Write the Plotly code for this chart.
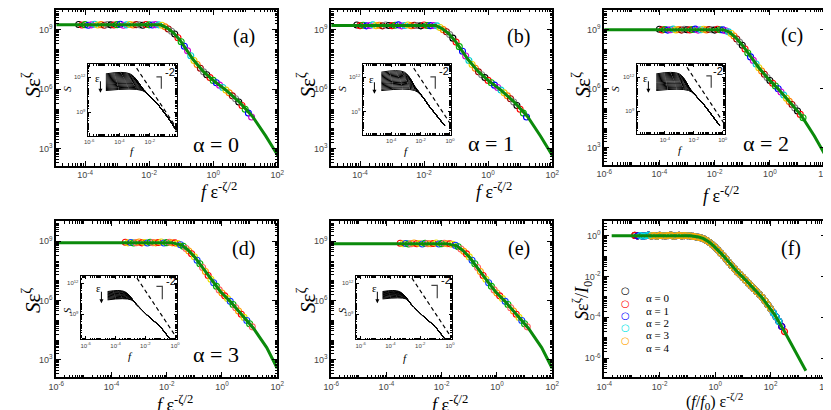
import plotly.graph_objects as go

W, H = 831, 410

# ---------------- data (log10 units) ----------------
# master curves (green lines), panels a-f
curve_a_lx = [-4.90, -1.64, -1.44, -1.23, -1.03, -0.82, -0.62, -0.31, 0.00, 0.41, 0.82, 1.23, 1.64, 2.02]
curve_a_ly = [9.25, 9.25, 9.10, 8.84, 8.46, 7.99, 7.49, 6.90, 6.45, 5.95, 5.35, 4.63, 3.65, 2.66]
curve_b_lx = [-4.90, -1.64, -1.44, -1.23, -1.03, -0.82, -0.62, -0.31, 0.00, 0.41, 0.82, 1.23, 1.64, 2.02]
curve_b_ly = [9.22, 9.22, 9.07, 8.81, 8.44, 7.98, 7.49, 6.90, 6.45, 5.95, 5.35, 4.63, 3.63, 2.62]
curve_c_lx = [-6.00, -1.70, -1.47, -1.23, -0.99, -0.76, -0.40, -0.05, 0.31, 0.78, 1.14, 1.61, 2.00]
curve_c_ly = [9.00, 9.00, 8.88, 8.59, 8.20, 7.74, 7.07, 6.49, 5.98, 5.23, 4.64, 3.60, 2.64]
curve_d_lx = [-6.00, -1.82, -1.46, -1.23, -0.99, -0.76, -0.40, -0.05, 0.31, 0.78, 1.14, 1.62, 2.00]
curve_d_ly = [8.93, 8.93, 8.81, 8.56, 8.21, 7.79, 7.08, 6.45, 5.94, 5.18, 4.60, 3.62, 2.58]
curve_e_lx = [-6.00, -1.82, -1.46, -1.23, -0.99, -0.76, -0.40, -0.05, 0.31, 0.78, 1.14, 1.62, 2.00]
curve_e_ly = [8.88, 8.88, 8.77, 8.53, 8.19, 7.78, 7.08, 6.45, 5.94, 5.18, 4.60, 3.62, 2.58]
curve_f_lx = [-3.73, -0.91, -0.60, -0.44, -0.25, -0.08, 0.27, 0.74, 1.21, 1.68, 2.15, 2.51, 3.27]
curve_f_ly = [0.00, 0.00, -0.06, -0.13, -0.28, -0.46, -0.95, -1.68, -2.33, -3.01, -3.88, -4.72, -6.62]

# collapsed data points (markers)
mark_a_lx = [-4.2, -4.1, -4.0, -3.9, -3.8, -3.7, -3.6, -3.5, -3.4, -3.3, -3.2, -3.1, -3.0, -2.9,
             -2.8, -2.7, -2.6, -2.5, -2.4, -2.3, -2.2, -2.1, -2.0, -1.9, -1.8, -1.7, -1.6, -1.5,
             -1.4, -1.3, -1.2, -1.1, -1.0, -0.9, -0.8, -0.7, -0.6, -0.5, -0.4, -0.3, -0.2, -0.1,
             0.0, 0.1, 0.2, 0.3, 0.4, 0.5, 0.6, 0.7, 0.8, 0.9, 1.0, 1.1, 1.2]
mark_a_ly = [9.27, 9.24, 9.26, 9.23, 9.25, 9.28, 9.24, 9.26, 9.23, 9.27, 9.25, 9.24, 9.26, 9.28,
             9.23, 9.25, 9.27, 9.24, 9.26, 9.25, 9.23, 9.27, 9.25, 9.24, 9.26, 9.25, 9.23, 9.15,
             9.04, 8.93, 8.79, 8.60, 8.40, 8.17, 7.94, 7.69, 7.45, 7.25, 7.06, 6.88, 6.73, 6.59,
             6.45, 6.33, 6.21, 6.09, 5.96, 5.82, 5.67, 5.52, 5.36, 5.18, 4.99, 4.80, 4.60]
mark_b_lx = [-4.1, -4.0, -3.9, -3.8, -3.7, -3.6, -3.5, -3.4, -3.3, -3.2, -3.1, -3.0, -2.9,
             -2.8, -2.7, -2.6, -2.5, -2.4, -2.3, -2.2, -2.1, -2.0, -1.9, -1.8, -1.7, -1.6, -1.5,
             -1.4, -1.3, -1.2, -1.1, -1.0, -0.9, -0.8, -0.7, -0.6, -0.5, -0.4, -0.3, -0.2, -0.1,
             0.0, 0.1, 0.2, 0.3, 0.4, 0.5, 0.6, 0.7, 0.8, 0.9, 1.0, 1.1, 1.2]
mark_b_ly = [9.24, 9.21, 9.23, 9.20, 9.22, 9.25, 9.21, 9.23, 9.20, 9.24, 9.22, 9.21, 9.23,
             9.25, 9.20, 9.22, 9.24, 9.21, 9.23, 9.22, 9.20, 9.24, 9.22, 9.21, 9.22, 9.20, 9.12,
             9.01, 8.90, 8.76, 8.58, 8.38, 8.15, 7.92, 7.68, 7.45, 7.25, 7.06, 6.88, 6.73, 6.59,
             6.45, 6.33, 6.21, 6.09, 5.96, 5.82, 5.67, 5.52, 5.36, 5.18, 4.99, 4.80, 4.60]
mark_c_lx = [-4.0, -3.9, -3.8, -3.7, -3.6, -3.5, -3.4, -3.3, -3.2, -3.1, -3.0, -2.9,
             -2.8, -2.7, -2.6, -2.5, -2.4, -2.3, -2.2, -2.1, -2.0, -1.9, -1.8, -1.7, -1.6, -1.5,
             -1.4, -1.3, -1.2, -1.1, -1.0, -0.9, -0.8, -0.7, -0.6, -0.5, -0.4, -0.3, -0.2, -0.1,
             0.0, 0.1, 0.2, 0.3, 0.4, 0.5, 0.6, 0.7, 0.8, 0.9, 1.0, 1.1, 1.2]
mark_c_ly = [9.02, 8.99, 9.01, 8.98, 9.00, 9.03, 8.99, 9.01, 8.98, 9.02, 9.00, 8.99,
             9.01, 9.03, 8.98, 9.00, 9.02, 8.99, 9.01, 9.00, 8.98, 9.02, 9.00, 8.99, 8.95, 8.89,
             8.81, 8.68, 8.53, 8.37, 8.21, 8.02, 7.82, 7.62, 7.44, 7.26, 7.07, 6.90, 6.74, 6.57,
             6.42, 6.28, 6.14, 6.00, 5.84, 5.68, 5.52, 5.36, 5.20, 5.03, 4.87, 4.70, 4.53]
mark_d_lx = [-3.5, -3.4, -3.3, -3.2, -3.1, -3.0, -2.9, -2.8, -2.7, -2.6, -2.5, -2.4, -2.3,
             -2.2, -2.1, -2.0, -1.9, -1.8, -1.7, -1.6, -1.5, -1.4, -1.3, -1.2, -1.1, -1.0,
             -0.9, -0.8, -0.7, -0.6, -0.5, -0.4, -0.3, -0.2, -0.1, 0.0, 0.1, 0.2, 0.3, 0.4,
             0.5, 0.6, 0.7, 0.8, 0.9, 1.0, 1.1]
mark_d_ly = [8.95, 8.92, 8.94, 8.91, 8.93, 8.96, 8.92, 8.94, 8.91, 8.95, 8.93, 8.92, 8.94,
             8.96, 8.91, 8.93, 8.95, 8.92, 8.92, 8.88, 8.82, 8.75, 8.63, 8.51, 8.37, 8.22,
             8.04, 7.86, 7.67, 7.47, 7.27, 7.08, 6.90, 6.72, 6.54, 6.38, 6.24, 6.10, 5.96, 5.80,
             5.64, 5.47, 5.31, 5.15, 4.99, 4.83, 4.67]
mark_e_lx = [-3.5, -3.4, -3.3, -3.2, -3.1, -3.0, -2.9, -2.8, -2.7, -2.6, -2.5, -2.4, -2.3,
             -2.2, -2.1, -2.0, -1.9, -1.8, -1.7, -1.6, -1.5, -1.4, -1.3, -1.2, -1.1, -1.0,
             -0.9, -0.8, -0.7, -0.6, -0.5, -0.4, -0.3, -0.2, -0.1, 0.0, 0.1, 0.2, 0.3, 0.4,
             0.5, 0.6, 0.7, 0.8, 0.9, 1.0, 1.1]
mark_e_ly = [8.90, 8.87, 8.89, 8.86, 8.88, 8.91, 8.87, 8.89, 8.86, 8.90, 8.88, 8.87, 8.89,
             8.91, 8.86, 8.88, 8.90, 8.87, 8.87, 8.84, 8.79, 8.72, 8.61, 8.49, 8.36, 8.21,
             8.04, 7.86, 7.67, 7.47, 7.27, 7.08, 6.90, 6.72, 6.54, 6.38, 6.24, 6.10, 5.96, 5.80,
             5.64, 5.47, 5.31, 5.15, 4.99, 4.83, 4.67]
mark_f_lx = [-2.9, -2.8, -2.7, -2.6, -2.5, -2.4, -2.3, -2.2, -2.1, -2.0, -1.9, -1.8, -1.7,
             -1.6, -1.5, -1.4, -1.3, -1.2, -1.1, -1.0, -0.9, -0.8, -0.7, -0.6, -0.5, -0.4,
             -0.3, -0.2, -0.1, 0.0, 0.1, 0.2, 0.3, 0.4, 0.5, 0.6, 0.7, 0.8, 0.9, 1.0, 1.1,
             1.2, 1.3, 1.4, 1.5, 1.6, 1.7, 1.8, 1.9, 2.0, 2.1, 2.2, 2.3, 2.4, 2.5]
mark_f_ly = [0.02, -0.01, 0.01, -0.02, 0.00, 0.03, -0.01, 0.01, -0.02, 0.02, 0.00, -0.01,
             0.01, 0.03, -0.02, 0.00, 0.02, -0.01, 0.01, 0.00, -0.01, -0.03, -0.05, -0.08,
             -0.11, -0.16, -0.24, -0.33, -0.44, -0.56, -0.70, -0.85, -0.99, -1.15, -1.31,
             -1.47, -1.62, -1.77, -1.90, -2.04, -2.18, -2.32, -2.46, -2.60, -2.74, -2.88,
             -3.03, -3.20, -3.38, -3.58, -3.78, -3.98, -4.20, -4.45, -4.70]
f_series = ["α = 0", "α = 1", "α = 2", "α = 3", "α = 4"]
f_series_colors = ["black", "red", "blue", "#00e5e5", "#ffa500"]
f_series_first = [0, 0, 1, 2, 6]        # first / last marker index of each alpha
f_series_last = [54, 55, 54, 53, 50]

# insets: raw spectra S(f) -- plateau levels, where each leaves it, common tail
ins_a_lev = [12.28, 12.19, 12.10, 12.01, 11.92, 11.83, 11.74, 11.65, 11.56, 11.47, 11.38,
             11.29, 11.20, 11.11, 11.02, 10.93, 10.85]
ins_a_knee = [-3.30, -3.25, -3.20, -3.15, -3.10, -3.05, -3.00, -2.95, -2.90, -2.85, -2.80,
              -2.75, -2.70, -2.65, -2.60, -2.55, -2.50]
ins_a_tail_x = [-2.4, -2.1, -1.8, -1.55, -1.25, -0.9, -0.55, -0.27]
ins_a_tail_y = [10.90, 10.50, 10.12, 9.78, 9.30, 8.70, 8.05, 7.45]
ins_b_lev = [12.44, 12.34, 12.24, 12.14, 12.04, 11.94, 11.84, 11.74, 11.64, 11.54, 11.44,
             11.34, 11.24, 11.14, 11.04, 10.93, 10.83]
ins_b_knee = [-3.10, -3.05, -3.00, -2.95, -2.90, -2.85, -2.80, -2.75, -2.70, -2.66, -2.62,
              -2.58, -2.54, -2.50, -2.46, -2.43, -2.40]
ins_b_tail_x = [-2.3, -2.0, -1.75, -1.47, -1.1, -0.7, -0.37]
ins_b_tail_y = [10.95, 10.50, 10.08, 9.55, 8.95, 8.30, 7.77]
ins_c_lev = [12.29, 12.20, 12.11, 12.02, 11.93, 11.84, 11.75, 11.66, 11.57, 11.47, 11.38,
             11.29, 11.20, 11.11, 11.02, 10.92, 10.83]
ins_c_knee = [-3.00, -2.96, -2.92, -2.88, -2.84, -2.80, -2.76, -2.72, -2.68, -2.64, -2.60,
              -2.56, -2.52, -2.48, -2.44, -2.40, -2.36]
ins_c_tail_x = [-2.2, -1.95, -1.7, -1.35, -1.0, -0.6, -0.22]
ins_c_tail_y = [10.85, 10.50, 10.15, 9.67, 9.10, 8.42, 7.77]
ins_d_lev = [11.19, 11.12, 11.05, 10.98, 10.91, 10.84, 10.77, 10.70, 10.62, 10.54, 10.46, 10.39]
ins_d_knee = [-3.40, -3.36, -3.32, -3.28, -3.24, -3.20, -3.16, -3.12, -3.08, -3.04, -3.00, -2.95]
ins_d_tail_x = [-2.6, -2.25, -1.9, -1.5, -1.0, -0.38]
ins_d_tail_y = [9.95, 9.45, 8.95, 8.45, 7.80, 6.68]
ins_e_lev = [11.19, 11.13, 11.07, 11.01, 10.95, 10.89, 10.83, 10.77, 10.70, 10.62, 10.55, 10.48]
ins_e_knee = [-3.40, -3.36, -3.32, -3.28, -3.24, -3.20, -3.16, -3.12, -3.08, -3.04, -3.00, -2.95]
ins_e_tail_x = [-2.6, -2.25, -1.9, -1.5, -1.0, -0.38]
ins_e_tail_y = [9.95, 9.45, 8.95, 8.45, 7.80, 6.68]
ins_start = {"a": -4.9, "b": -4.68, "c": -4.6, "d": -4.53, "e": -4.53}
# dashed f^-2 guide: (x0, y0, x1, y1)
ins_dash = {"a": (-2.87, 12.77, -0.27, 7.71), "b": (-2.47, 12.79, 0.07, 7.83),
            "c": (-2.47, 12.87, 0.11, 7.92), "d": (-2.56, 12.48, 0.06, 6.84),
            "e": (-2.56, 12.48, 0.06, 6.84)}

# ---------------- layout geometry (pixels) ----------------
main_box = {"a": (41, 266, 1, 157), "b": (321, 546, 1, 157), "c": (599, 824, 1, 156),
            "d": (41, 266, 213, 369), "e": (321, 546, 213, 369), "f": (599, 825, 213, 369)}
main_xr = {"a": [-4.9, 2.0], "b": [-4.9, 2.0], "c": [-6, 2], "d": [-6, 2], "e": [-6, 2], "f": [-4, 4]}
main_yr = {"a": [2.15, 10.0], "b": [2.15, 10.0], "c": [2.15, 10.0], "d": [2.13, 10.0],
           "e": [2.13, 10.0], "f": [-6.93, 0.7]}
main_xt = {"a": [-4, -2, 0, 2], "b": [-4, -2, 0, 2], "c": [-6, -4, -2, 0, 2],
           "d": [-6, -4, -2, 0, 2], "e": [-6, -4, -2, 0, 2], "f": [-4, -2, 0, 2, 4]}
main_yt = {"a": [3, 6, 9], "b": [3, 6, 9], "c": [3, 6, 9], "d": [3, 6, 9], "e": [3, 6, 9],
           "f": [-6, -4, -2, 0]}
ins_box = {"a": (73, 164, 55, 127), "b": (353, 443, 55, 126), "c": (632, 722, 55, 125),
           "d": (66, 164, 268, 331), "e": (346, 444, 268, 331)}
ins_xr = {"a": [-6.1, -0.2], "b": [-5.95, 0.07], "c": [-5.96, 0.16], "d": [-6.33, 0.13],
          "e": [-6.33, 0.13]}
ins_yr = {"a": [6.97, 13.14], "b": [6.96, 13.17], "c": [7.04, 13.17], "d": [6.61, 12.65],
          "e": [6.61, 12.65]}
ins_xt = {"a": [-6, -4, -2], "b": [-6, -4, -2, 0], "c": [-6, -4, -2, 0], "d": [-6, -4, -2, 0],
          "e": [-6, -4, -2, 0]}
# slope bracket (corner x0, x1, y_top, y_bottom) and "-2" label position, pixels
slope_px = {"a": (143, 148, 68, 80, 157, 63), "b": (422, 427, 68, 80, 436, 62),
            "c": (703, 708, 67, 79, 715, 62), "d": (143, 149, 278, 291, 158, 273),
            "e": (423, 429, 277, 290, 438, 272)}

abc_colors = ["black", "red", "#00b000", "blue", "#d000d0", "#00d0d0", "#e8d000", "#ff8000",
              "#a00000", "#808080"]
de_colors = ["red", "#e8e000", "#1040ff", "#00b000", "#ff6060", "#ffa000"]
GREEN = "#0b8a0b"
SERIF = "Liberation Serif"


def p(v):
    return [10.0 ** t for t in v]


def px(x):
    return x / W


def py(y):
    return 1 - y / H


def log_axis(rng, ticks, dom, anchor, size, lw, tl, ml):
    return dict(type="log", range=rng, domain=dom, anchor=anchor,
                tickmode="array", tickvals=p(ticks),
                ticktext=["10<sup>%d</sup>" % t for t in ticks],
                ticks="inside", ticklen=tl, tickwidth=1, tickcolor="black",
                minor=dict(ticks="inside", ticklen=ml, tickwidth=0.7, tickcolor="black", dtick="D1"),
                showline=True, linecolor="black", linewidth=lw, mirror="ticks",
                showgrid=False, zeroline=False,
                tickfont=dict(family="Liberation Sans", size=size, color="#444"))


fig = go.Figure()
layout = {}
keys = ["a", "b", "c", "d", "e", "f"]
curves = {"a": (curve_a_lx, curve_a_ly), "b": (curve_b_lx, curve_b_ly), "c": (curve_c_lx, curve_c_ly),
          "d": (curve_d_lx, curve_d_ly), "e": (curve_e_lx, curve_e_ly), "f": (curve_f_lx, curve_f_ly)}
marks = {"a": (mark_a_lx, mark_a_ly), "b": (mark_b_lx, mark_b_ly), "c": (mark_c_lx, mark_c_ly),
         "d": (mark_d_lx, mark_d_ly), "e": (mark_e_lx, mark_e_ly)}

for i, k in enumerate(keys):
    n = i + 1
    x0, x1, y0, y1 = main_box[k]
    sfx = "" if n == 1 else str(n)
    layout["xaxis" + sfx] = log_axis(main_xr[k], main_xt[k], [px(x0), px(x1)], "y" + sfx, 9, 1.8, 5, 2.5)
    layout["yaxis" + sfx] = log_axis(main_yr[k], main_yt[k], [py(y1), py(y0)], "x" + sfx, 9, 1.8, 5, 2.5)
    xa, ya = "x" + sfx, "y" + sfx
    if k in marks:
        mx, my = marks[k]
        cols = abc_colors if k in "abc" else de_colors
        fig.add_trace(go.Scatter(x=p(mx), y=p(my), mode="markers", xaxis=xa, yaxis=ya,
                                 marker=dict(symbol="circle-open", size=6,
                                             color=[cols[j % len(cols)] for j in range(len(mx))],
                                             line=dict(width=1.1)),
                                 showlegend=False, hoverinfo="skip"))
    else:
        for s, name in enumerate(f_series):
            a, b = f_series_first[s], f_series_last[s]
            fig.add_trace(go.Scatter(x=p(mark_f_lx[a:b]), y=p(mark_f_ly[a:b]), mode="markers",
                                     xaxis=xa, yaxis=ya, name=name,
                                     marker=dict(symbol="circle-open", size=6, color=f_series_colors[s],
                                                 line=dict(width=1.2)),
                                     showlegend=False))
    cx, cy = curves[k]
    fig.add_trace(go.Scatter(x=p(cx), y=p(cy), mode="lines", xaxis=xa, yaxis=ya,
                             line=dict(color=GREEN, width=3),
                             showlegend=False, hoverinfo="skip"))

insets = {"a": (ins_a_lev, ins_a_knee, ins_a_tail_x, ins_a_tail_y),
          "b": (ins_b_lev, ins_b_knee, ins_b_tail_x, ins_b_tail_y),
          "c": (ins_c_lev, ins_c_knee, ins_c_tail_x, ins_c_tail_y),
          "d": (ins_d_lev, ins_d_knee, ins_d_tail_x, ins_d_tail_y),
          "e": (ins_e_lev, ins_e_knee, ins_e_tail_x, ins_e_tail_y)}

shapes = []
for i, k in enumerate(["a", "b", "c", "d", "e"]):
    n = 7 + i
    sfx = str(n)
    x0, x1, y0, y1 = ins_box[k]
    layout["xaxis" + sfx] = log_axis(ins_xr[k], ins_xt[k], [px(x0), px(x1)], "y" + sfx, 6, 1.3, 3, 1.5)
    layout["yaxis" + sfx] = log_axis(ins_yr[k], [9, 12], [py(y1), py(y0)], "x" + sfx, 6, 1.3, 3, 1.5)
    xa, ya = "x" + sfx, "y" + sfx
    lev, knee, tx, ty = insets[k]
    for L, kx in zip(lev, knee):
        keep = [j for j in range(len(tx)) if ty[j] < L - 0.45]
        lx = [ins_start[k], kx] + [tx[j] for j in keep]
        ly = [L, L] + [ty[j] for j in keep]
        fig.add_trace(go.Scatter(x=p(lx), y=p(ly), mode="lines", xaxis=xa, yaxis=ya,
                                 line=dict(color="black", width=1.0, shape="spline", smoothing=1.0),
                                 showlegend=False, hoverinfo="skip"))
    d = ins_dash[k]
    fig.add_trace(go.Scatter(x=p([d[0], d[2]]), y=p([d[1], d[3]]), mode="lines", xaxis=xa, yaxis=ya,
                             line=dict(color="black", width=1.2, dash="4px,3px"),
                             showlegend=False, hoverinfo="skip"))
    bx0, bx1, by0, by1, _, _ = slope_px[k]
    shapes.append(dict(type="path", xref="paper", yref="paper",
                       path="M %f %f L %f %f L %f %f" % (px(bx0), py(by0), px(bx1), py(by0), px(bx1), py(by1)),
                       line=dict(color="#444", width=1.2)))

fig.update_layout(**layout)

# ---------------- text ----------------
ann = []


def text(x, y, s, size, angle=0, family=SERIF, color="black", xanchor="center"):
    ann.append(dict(x=px(x), y=py(y), xref="paper", yref="paper", text=s, showarrow=False,
                    textangle=angle, xanchor=xanchor, yanchor="middle",
                    font=dict(family=family, size=size, color=color)))


ylab = "<i>S</i>ε<sup>ζ</sup>"
xlab = "<i>f</i> ε<sup>-ζ/2</sup>"
for (x, y) in [(16, 76), (296, 76), (576, 76), (16, 292), (296, 292)]:
    text(x, y, ylab, 21, angle=-90)
text(576, 292, "<i>S</i>ε<sup>ζ</sup>/<i>I</i><sub>0</sub>", 18, angle=-90)
for (x, y) in [(207, 182), (487, 182), (718, 186), (162, 395), (442, 395)]:
    text(x, y, xlab, 18)
text(711, 393, "(<i>f</i>/<i>f</i><sub>0</sub>) ε<sup>-ζ/2</sup>", 16)

for lab, (x, y) in zip(["(a)", "(b)", "(c)", "(d)", "(e)", "(f)"],
                       [(232, 28), (512, 28), (790, 27), (232, 240), (512, 240), (789, 240)]):
    text(x, y, lab, 20)
for lab, (x, y) in zip(["α = 0", "α = 1", "α = 2", "α = 3"],
                       [(204, 136), (484, 135), (764, 135), (204, 346)]):
    text(x, y, lab, 22)

# inset labels
for k, (sx, sy, fx, fy, ex, ey) in {"a": (52, 80, 119, 142, 83, 69),
                                    "b": (332, 80, 398, 142, 362, 70),
                                    "c": (610, 80, 677, 141, 641, 69),
                                    "d": (52, 302, 117, 348, 84, 280),
                                    "e": (332, 302, 397, 350, 365, 280)}.items():
    text(sx, sy, "<i>S</i>", 11, angle=-90)
    text(fx, fy, "<i>f</i>", 11)
    text(ex, ey, "ε", 11)
    ann.append(dict(x=px(ex + 3), y=py(ey + 15), xref="paper", yref="paper", text="",
                    showarrow=True, ax=0, ay=-13, arrowhead=2, arrowsize=0.8, arrowwidth=1,
                    arrowcolor="black"))
    _, _, _, _, tx2, ty2 = slope_px[k]
    text(tx2, ty2, "-2", 11, family="Liberation Sans")

# legend of panel (f)
for s, (name, col) in enumerate(zip(f_series, f_series_colors)):
    y = 290 + 12.4 * s
    ann.append(dict(x=px(627), y=py(y), xref="paper", yref="paper", text="○", showarrow=False,
                    font=dict(family="DejaVu Sans", size=10, color=col)))
    text(640, y, name, 11, xanchor="left")

fig.update_layout(width=W, height=H, margin=dict(l=0, r=0, t=0, b=0),
                  paper_bgcolor="white", plot_bgcolor="white", annotations=ann, shapes=shapes,
                  showlegend=False)
fig.write_html("out.html")
